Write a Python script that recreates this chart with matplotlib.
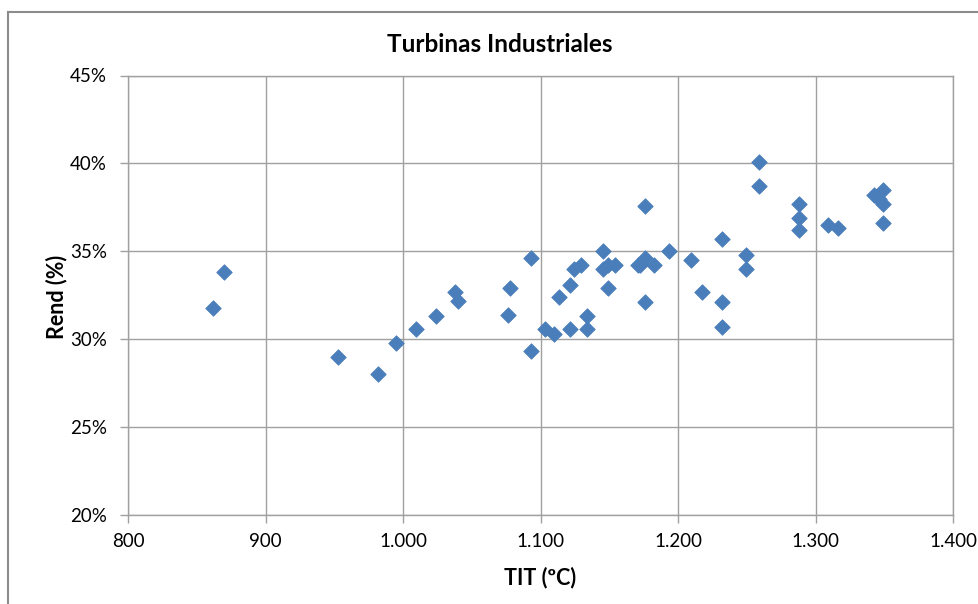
import matplotlib.pyplot as plt
from matplotlib.lines import Line2D

# turbine inlet temperature (ºC) and efficiency (%)
tit = [862, 870, 953, 982, 995, 1009, 1024, 1038, 1040, 1076,
       1078, 1093, 1093, 1103, 1110, 1113, 1121, 1121, 1124, 1129,
       1134, 1134, 1145, 1145, 1149, 1149, 1154, 1171, 1176, 1176,
       1172, 1182, 1176, 1193, 1209, 1217, 1232, 1232, 1232, 1249,
       1249, 1259, 1259, 1288, 1288, 1288, 1309, 1316, 1342, 1346,
       1349, 1349, 1349]
rend = [31.8, 33.8, 29.0, 28.0, 29.8, 30.6, 31.3, 32.7, 32.2, 31.4,
        32.9, 34.6, 29.3, 30.6, 30.3, 32.4, 33.1, 30.6, 34.0, 34.2,
        31.3, 30.6, 35.0, 34.0, 32.9, 34.2, 34.2, 34.2, 37.6, 34.6,
        34.2, 34.2, 32.1, 35.0, 34.5, 32.7, 35.7, 32.1, 30.7, 34.8,
        34.0, 40.1, 38.7, 37.7, 36.9, 36.2, 36.5, 36.3, 38.2, 38.0,
        38.5, 37.7, 36.6]

x_ticks = [800, 900, 1000, 1100, 1200, 1300, 1400]
x_labels = ['800', '900', '1.000', '1.100', '1.200', '1.300', '1.400']
y_ticks = [20, 25, 30, 35, 40, 45]
y_labels = ['20%', '25%', '30%', '35%', '40%', '45%']


def main():
    plt.rcParams['font.family'] = ['Lato', 'DejaVu Sans']
    grid_col = '#a0a0a0'

    fig = plt.figure(figsize=(9.79, 6.04), dpi=100)
    ax = fig.add_axes([0.1307, 0.1474, 0.8432, 0.7276])

    ax.scatter(tit, rend, marker='D', s=62, color='#4a7ebb',
               edgecolors='#4a7ebb', linewidths=0.6, zorder=3)

    ax.set_xlim(800, 1400)
    ax.set_ylim(20, 45)
    ax.set_xticks(x_ticks, labels=x_labels)
    ax.set_yticks(y_ticks, labels=y_labels)
    ax.tick_params(axis='both', colors=grid_col, labelcolor='black',
                   labelsize=13.5, length=6, width=1)
    ax.tick_params(axis='x', pad=7)
    ax.tick_params(axis='y', pad=9)

    ax.grid(True, color=grid_col, linewidth=1)
    ax.set_axisbelow(True)
    for side in ax.spines.values():
        side.set_color(grid_col)
        side.set_linewidth(1)

    fig.text(500 / 979, 1 - 44 / 604, 'Turbinas Industriales',
             fontsize=17.5, fontweight='bold', ha='center', va='center')
    ax.set_xlabel('TIT (ºC)', fontsize=15.5, fontweight='bold', va='center')
    ax.set_ylabel('Rend (%)', fontsize=15.5, fontweight='bold', va='center')
    ax.xaxis.set_label_coords(0.499, -0.143)
    ax.yaxis.set_label_coords(-0.086, 0.496)

    # chart frame, only its top and left edges fall inside the image
    fig.add_artist(Line2D([8.5 / 979, 1], [1 - 12 / 604, 1 - 12 / 604],
                          transform=fig.transFigure, color='#8c8c8c',
                          linewidth=1.5))
    fig.add_artist(Line2D([8.5 / 979, 8.5 / 979], [0, 1 - 12 / 604],
                          transform=fig.transFigure, color='#8c8c8c',
                          linewidth=1.5))

    fig.savefig('out.png', dpi=100)


if __name__ == '__main__':
    main()
